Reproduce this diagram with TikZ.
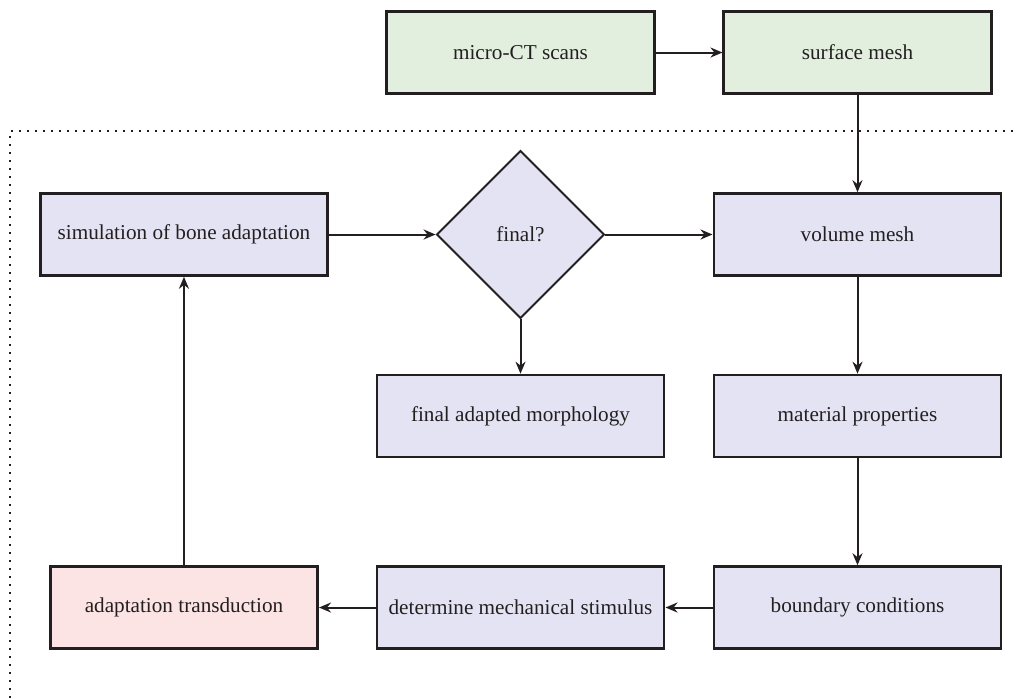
\documentclass[tikz,border=0pt]{standalone}
\usepackage{fontspec}
\setmainfont{Liberation Serif}
\usetikzlibrary{shapes.geometric,positioning,arrows.meta}
\definecolor{myblack}{HTML}{231F20}
\definecolor{mygreen}{HTML}{E2EFDF}
\definecolor{mylilac}{HTML}{E4E3F3}
\definecolor{mypink}{HTML}{FCE3E4}
\tikzset{
mybox/.style={
  rectangle,
  draw=myblack,
  line width=1.3pt,
  fill=mylilac,
  text=myblack,
  font=\fontsize{10.6}{12.7}\selectfont,
  minimum width=5.05cm,
  minimum height=1.44cm,
  align=center
  },
mynarrow/.style={minimum width=4.70cm},
mydia/.style={
  diamond,
  draw=myblack,
  line width=1pt,
  fill=mylilac,
  text=myblack,
  font=\fontsize{10.6}{12.7}\selectfont,
  inner sep=0pt,
  minimum size=2.95cm
  },
myarrow/.style={draw=myblack,line width=1pt,->}
}

\begin{document}
\begin{tikzpicture}[>={Stealth[length=6pt,width=5pt]}]

\useasboundingbox (0,0) rectangle (17.872,-12.283);

% frame round the loop
\draw[myblack,line width=1.1pt,dash pattern=on 1.1pt off 2.9pt]
  (18.5,-2.302) -- (0.176,-2.302) -- (0.176,-13);

\node[mybox,mynarrow,fill=mygreen] (scans) at (9.147,-0.923) {micro-CT scans};
\node[mybox,mynarrow,fill=mygreen] (surf) at (15.069,-0.923) {surface mesh};

\node[mybox] (sim) at (3.233,-4.121) {simulation of bone adaptation};
\node[mydia] (final) at (9.147,-4.121) {final?};
\node[mybox] (vol) at (15.069,-4.121) {volume mesh};

\node[mybox] (morph) at (9.147,-7.310) {final adapted morphology};
\node[mybox] (mat) at (15.069,-7.310) {material properties};

\node[mybox,mynarrow,fill=mypink] (trans) at (3.233,-10.676) {adaptation transduction};
\node[mybox] (stim) at (9.147,-10.676) {determine mechanical stimulus};
\node[mybox] (bc) at (15.069,-10.676) {boundary conditions};

\draw[myarrow] (scans) -- (surf);
\draw[myarrow] (surf) -- (vol);
\draw[myarrow] (sim) -- (final);
\draw[myarrow] (final) -- (vol);
\draw[myarrow] (final) -- (morph);
\draw[myarrow] (vol) -- (mat);
\draw[myarrow] (mat) -- (bc);
\draw[myarrow] (bc) -- (stim);
\draw[myarrow] (stim) -- (trans);
\draw[myarrow] (trans) -- (sim);

\end{tikzpicture}
\end{document}
